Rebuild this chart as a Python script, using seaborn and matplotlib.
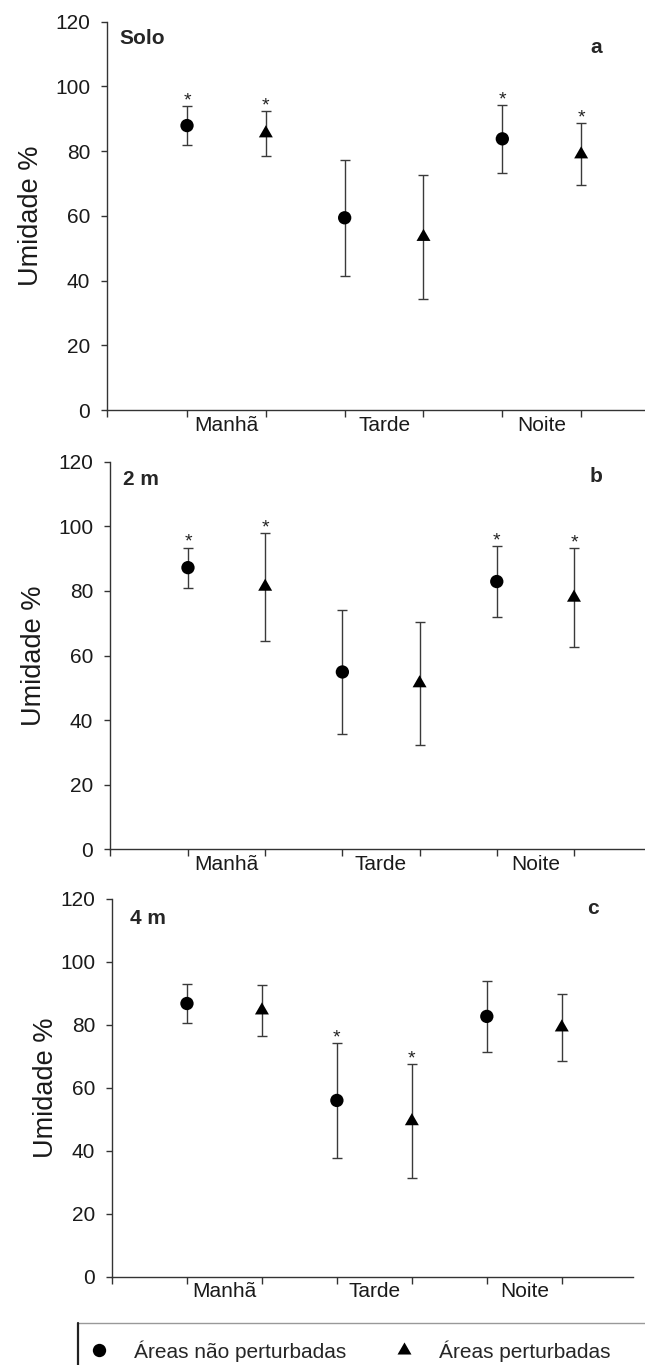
import numpy as np
import pandas as pd
import matplotlib
matplotlib.use("Agg")
import matplotlib.pyplot as plt
import seaborn as sns
from matplotlib.lines import Line2D

# categories
periodos = ["Manhã", "Tarde", "Noite"]
grupos = ["Áreas não perturbadas", "Áreas perturbadas"]
paineis = ["Solo", "2 m", "4 m"]
letras = ["a", "b", "c"]

# values, order: Manhã (não pert., pert.), Tarde (...), Noite (...)
solo_media = [87.9, 85.5, 59.4, 53.5, 83.8, 79.0]
solo_erro = [6.0, 7.0, 18.0, 19.2, 10.5, 9.6]
solo_sig = [1, 1, 0, 0, 1, 1]

m2_media = [87.2, 81.3, 54.9, 51.4, 82.9, 77.9]
m2_erro = [6.2, 16.7, 19.1, 19.0, 11.0, 15.3]
m2_sig = [1, 1, 0, 0, 1, 1]

m4_media = [86.8, 84.6, 56.0, 49.4, 82.7, 79.2]
m4_erro = [6.3, 8.1, 18.2, 18.1, 11.2, 10.6]
m4_sig = [0, 0, 1, 1, 0, 0]

medias = [solo_media, m2_media, m4_media]
erros = [solo_erro, m2_erro, m4_erro]
sigs = [solo_sig, m2_sig, m4_sig]

W, H = 645, 1365
# axes boxes in pixels: left, top, right, bottom
caixas = [(107, 21.7, 645, 410), (110, 461.7, 645, 849.3), (112, 899, 633, 1276.7)]
xlims = [(-0.015, 6.81), (-0.01, 6.92), (0.0, 6.95)]
ylabel_x = [-0.117, -0.117, -0.102]
titulo_pos = [(0.024, 0.956), (0.025, 0.953), (0.034, 0.949)]
letra_pos = [(0.91, 0.933), (0.909, 0.961), (0.924, 0.975)]

sns.set_style("ticks")
plt.rcParams["font.family"] = ["Liberation Sans", "DejaVu Sans"]

fig = plt.figure(figsize=(W / 100, H / 100), dpi=100)

triangulo = (3, 0, 0)

for i in range(3):
    df = pd.DataFrame({
        "periodo": np.repeat(periodos, 2),
        "grupo": grupos * 3,
        "media": medias[i],
        "erro": erros[i],
        "sig": sigs[i],
    })
    df["x"] = np.repeat(np.arange(3), 2) * 2 + np.tile([1, 2], 3)

    l, t, r, b = caixas[i]
    ax = fig.add_axes([l / W, 1 - b / H, (r - l) / W, (b - t) / H])

    ax.errorbar(df["x"], df["media"], yerr=df["erro"], fmt="none",
                ecolor="#3a3a3a", elinewidth=1, capsize=3.8, capthick=1, zorder=1)
    sns.scatterplot(data=df, x="x", y="media", style="grupo", size="grupo",
                    markers={grupos[0]: "o", grupos[1]: triangulo},
                    sizes={grupos[0]: 92, grupos[1]: 135},
                    color="black", linewidth=0, legend=False, ax=ax, zorder=3)

    for _, row in df[df["sig"] == 1].iterrows():
        ax.annotate("*", (row["x"], row["media"] + row["erro"]), xytext=(0, 0.5),
                    textcoords="offset points", ha="center", va="baseline",
                    fontsize=14, color="#222222")

    ax.set_xlim(*xlims[i])
    ax.set_ylim(0, 120)
    ax.set_yticks(range(0, 121, 20))
    ax.set_xticks([xlims[i][0]] + list(df["x"]))
    ax.set_xticks([1.5, 3.5, 5.5], labels=periodos, minor=True)
    ax.tick_params(axis="x", which="major", length=5, width=1, color="#333333",
                   labelbottom=False)
    ax.tick_params(axis="x", which="minor", length=0, pad=4, labelsize=15,
                   labelcolor="#1a1a1a")
    ax.tick_params(axis="y", length=4, width=1, color="#333333", pad=8,
                   labelsize=15, labelcolor="#1a1a1a")

    sns.despine(ax=ax)
    for s in ["left", "bottom"]:
        ax.spines[s].set_color("#333333")
        ax.spines[s].set_linewidth(1)

    ax.set_xlabel("")
    ax.set_ylabel("Umidade %", fontsize=19.5, color="#1a1a1a")
    ax.yaxis.set_label_coords(ylabel_x[i], 0.5)

    ax.text(*titulo_pos[i], paineis[i], transform=ax.transAxes, fontsize=15,
            fontweight="bold", ha="left", va="center")
    ax.text(*letra_pos[i], letras[i], transform=ax.transAxes, fontsize=15,
            fontweight="bold", ha="center", va="center")

# legend at the bottom
handles = [
    Line2D([], [], ls="none", marker="o", color="black", markersize=9.6, mew=0),
    Line2D([], [], ls="none", marker=triangulo, color="black", markersize=11.6, mew=0),
]
fig.legend(handles, grupos, loc="center left", bbox_to_anchor=(88.6 / W, 1 - 1351 / H),
           ncol=2, frameon=False, fontsize=15, handlelength=1.0, handletextpad=1.18,
           columnspacing=2.29, borderpad=0, borderaxespad=0)
fig.add_artist(Line2D([78 / W, 1], [1 - 1323 / H] * 2, transform=fig.transFigure,
                      color="#999999", lw=1))
fig.add_artist(Line2D([78 / W] * 2, [1 - 1323 / H, 0], transform=fig.transFigure,
                      color="#222222", lw=1.6))

fig.savefig("out.png", dpi=100)
